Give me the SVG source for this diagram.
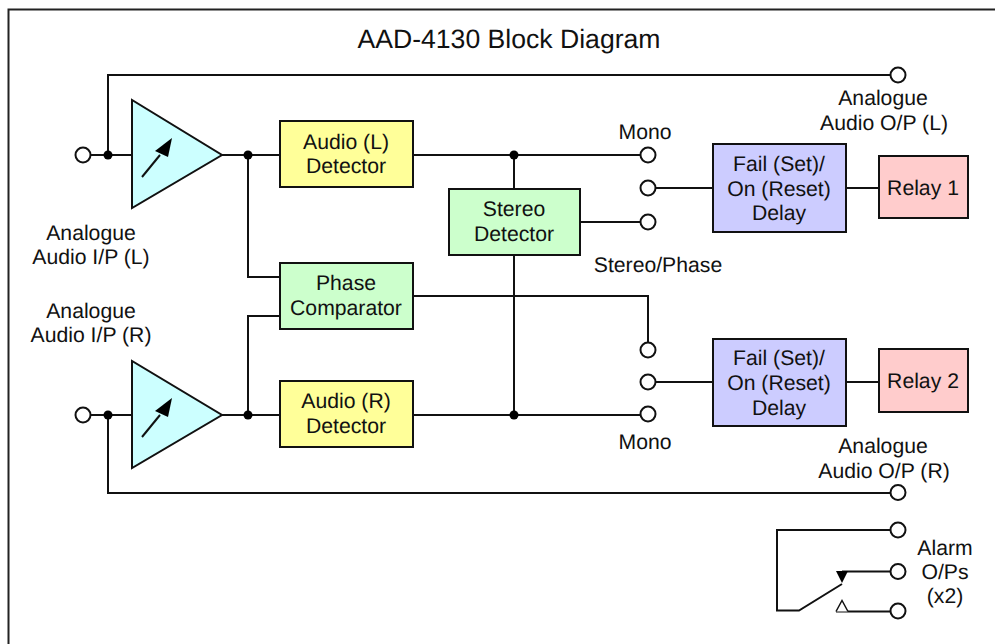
<svg xmlns="http://www.w3.org/2000/svg" width="995" height="644" viewBox="0 0 995 644">
<style>
text{font-family:"Liberation Sans",Arial,sans-serif;font-size:21.2px;fill:#111;text-anchor:middle;text-rendering:geometricPrecision}
.w{fill:none;stroke:#111;stroke-width:2}
.b{stroke:#111;stroke-width:2}
.c{fill:#fff;stroke:#111;stroke-width:2}
.d{fill:#000}
.a{fill:#ccffff;stroke:#111;stroke-width:2;stroke-linejoin:miter}
</style>
<defs>
<g id="port"><circle class="c" r="7.5"/></g>
<g id="dot"><circle class="d" r="4.5"/></g>
</defs>
<rect width="995" height="644" fill="#fff"/>
<path d="M8.5 644V9.500H995" fill="none" stroke="#222" stroke-width="2"/>
<text id="title" x="509" y="48" style="font-size:26.6px">AAD-4130 Block Diagram</text>
<g id="connectors">
<path class="w" d="M91 155H132M222 155H280M413 155H640M108 155V75H890"/>
<path class="w" d="M248 155V277H280M248 415V316H280"/>
<path class="w" d="M91 415H132M222 415H280M413 415H640M108 415V493H890"/>
<path class="w" d="M514 155V189M514 255V415M580 222H640"/>
<path class="w" d="M413 296H648V342"/>
<path class="w" d="M656 188H713M846 188H878M656 382H713M846 382H878"/>
<path class="w" d="M890 530H777V610.500H799L842 584M842 571.500H890M836 611.500H890"/>
<path d="M836 571H848L842 583Z" class="d"/>
<path d="M836 611.500L842 600.500L848 611.500" fill="#fff" stroke="#111" stroke-width="1.500"/>
<use href="#dot" x="108" y="155"/><use href="#dot" x="248" y="155"/><use href="#dot" x="514" y="155"/>
<use href="#dot" x="108" y="415"/><use href="#dot" x="248" y="415"/><use href="#dot" x="514" y="415"/>
</g>
<g id="in-l"><use href="#port" x="83" y="155"/><text x="91" y="240">Analogue</text><text x="91" y="264">Audio I/P (L)</text></g>
<g id="in-r"><use href="#port" x="83" y="415"/><text x="91" y="318">Analogue</text><text x="91" y="342">Audio I/P (R)</text></g>
<g id="amp-l"><path class="a" d="M132 100V208L222 155Z"/><path class="w" d="M142 177L160 155"/><path class="d" d="M172 138L155 151L168 157Z"/></g>
<g id="amp-r"><path class="a" d="M132 361V468L222 415Z"/><path class="w" d="M142 437L160 415"/><path class="d" d="M172 398L155 411L168 417Z"/></g>
<g id="det-l"><rect class="b" fill="#ffff99" x="280" y="121" width="133" height="66"/><text x="346" y="149">Audio (L)</text><text x="346" y="173">Detector</text></g>
<g id="det-r"><rect class="b" fill="#ffff99" x="280" y="381" width="133" height="66"/><text x="346" y="408">Audio (R)</text><text x="346" y="433">Detector</text></g>
<g id="phase"><rect class="b" fill="#ccffcc" x="280" y="263" width="133" height="66"/><text x="346" y="290">Phase</text><text x="346" y="315">Comparator</text></g>
<g id="stereo"><rect class="b" fill="#ccffcc" x="449" y="189" width="131" height="66"/><text x="514" y="216">Stereo</text><text x="514" y="241">Detector</text></g>
<g id="delay-1"><rect class="b" fill="#ccccff" x="713" y="144" width="133" height="88"/><text x="779" y="171">Fail (Set)/</text><text x="779" y="196">On (Reset)</text><text x="779" y="220">Delay</text></g>
<g id="delay-2"><rect class="b" fill="#ccccff" x="713" y="339" width="133" height="87"/><text x="779" y="365">Fail (Set)/</text><text x="779" y="390">On (Reset)</text><text x="779" y="415">Delay</text></g>
<g id="relay-1"><rect class="b" fill="#ffcccc" x="879" y="156" width="89" height="62"/><text x="923" y="195">Relay 1</text></g>
<g id="relay-2"><rect class="b" fill="#ffcccc" x="879" y="349" width="89" height="63"/><text x="923" y="388">Relay 2</text></g>
<g id="sw-1"><use href="#port" x="648" y="155"/><use href="#port" x="648" y="188"/><use href="#port" x="648" y="222"/><text x="645" y="139">Mono</text><text x="658" y="272">Stereo/Phase</text></g>
<g id="sw-2"><use href="#port" x="648" y="350"/><use href="#port" x="648" y="382"/><use href="#port" x="648" y="414"/><text x="645" y="449">Mono</text></g>
<g id="out-l"><use href="#port" x="898" y="75"/><text x="883" y="105">Analogue</text><text x="884" y="130">Audio O/P (L)</text></g>
<g id="out-r"><use href="#port" x="898" y="492.500"/><text x="883" y="453">Analogue</text><text x="884" y="478">Audio O/P (R)</text></g>
<g id="alarm"><use href="#port" x="898" y="530"/><use href="#port" x="898" y="571.500"/><use href="#port" x="898" y="611"/><text x="945" y="555">Alarm</text><text x="945" y="579">O/Ps</text><text x="945" y="603">(x2)</text></g>
</svg>
